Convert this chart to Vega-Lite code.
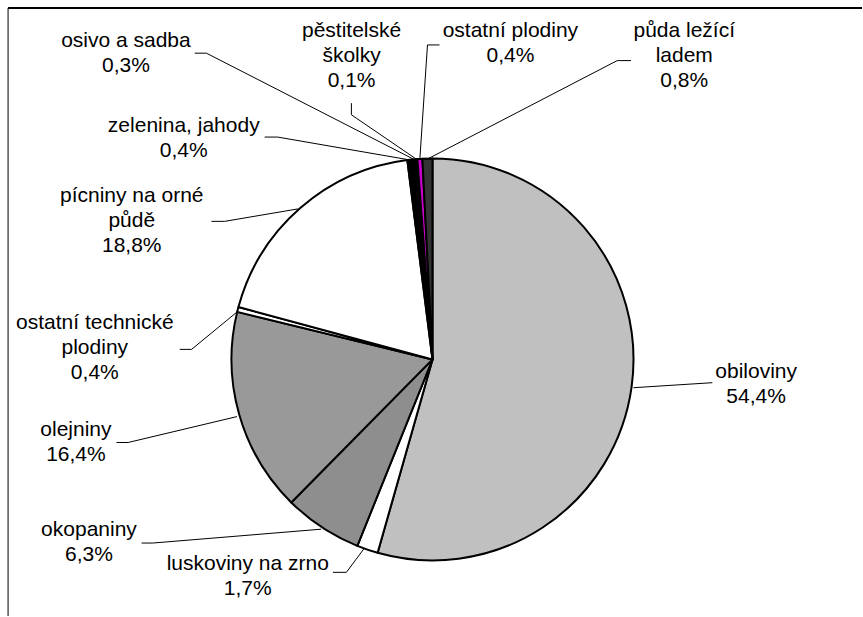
{
  "$schema": "https://vega.github.io/schema/vega-lite/v6.json",
  "width": 863,
  "height": 617,
  "autosize": {"type": "fit", "contains": "padding"},
  "padding": 0,
  "background": "white",
  "config": {"view": {"stroke": null}},
  "datasets": {
    "slices": [
      {"category": "obiloviny", "value": 54.4, "order": 1},
      {"category": "luskoviny na zrno", "value": 1.7, "order": 2},
      {"category": "okopaniny", "value": 6.3, "order": 3},
      {"category": "olejniny", "value": 16.4, "order": 4},
      {"category": "ostatní technické plodiny", "value": 0.4, "order": 5},
      {"category": "pícniny na orné půdě", "value": 18.8, "order": 6},
      {"category": "zelenina, jahody", "value": 0.4, "order": 7},
      {"category": "osivo a sadba", "value": 0.3, "order": 8},
      {"category": "pěstitelské školky", "value": 0.1, "order": 9},
      {"category": "ostatní plodiny", "value": 0.4, "order": 10},
      {"category": "půda ležící ladem", "value": 0.8, "order": 11}
    ],
    "labels": [
      {"category": "obiloviny", "text": "obiloviny\n54,4%", "u": 161.2, "v": -9.5},
      {"category": "luskoviny na zrno", "text": "luskoviny na zrno\n1,7%", "u": -92.0, "v": -105.0},
      {"category": "okopaniny", "text": "okopaniny\n6,3%", "u": -171.1, "v": -88.1},
      {"category": "olejniny", "text": "olejniny\n16,4%", "u": -177.6, "v": -38.3},
      {"category": "ostatní technické plodiny", "text": "ostatní technické\nplodiny\n0,4%", "u": -168.2, "v": 15.4},
      {"category": "pícniny na orné půdě", "text": "pícniny na orné\npůdě\n18,8%", "u": -149.8, "v": 78.6},
      {"category": "zelenina, jahody", "text": "zelenina, jahody\n0,4%", "u": -123.9, "v": 113.4},
      {"category": "osivo a sadba", "text": "osivo a sadba\n0,3%", "u": -152.7, "v": 155.7},
      {"category": "pěstitelské školky", "text": "pěstitelské\nškolky\n0,1%", "u": -40.3, "v": 160.7},
      {"category": "ostatní plodiny", "text": "ostatní plodiny\n0,4%", "u": 38.8, "v": 160.7},
      {"category": "půda ležící ladem", "text": "půda ležící\nladem\n0,8%", "u": 125.4, "v": 160.7}
    ],
    "leaders": [
      {"category": "obiloviny", "seq": 1, "u": 100.1, "v": -14.1},
      {"category": "obiloviny", "seq": 2, "u": 139.4, "v": -11.6},
      {"category": "luskoviny na zrno", "seq": 1, "u": -34.1, "v": -94.3},
      {"category": "luskoviny na zrno", "seq": 2, "u": -42.9, "v": -106.1},
      {"category": "luskoviny na zrno", "seq": 3, "u": -49.6, "v": -106.1},
      {"category": "okopaniny", "seq": 1, "u": -55.4, "v": -84.6},
      {"category": "okopaniny", "seq": 2, "u": -139.3, "v": -91.5},
      {"category": "okopaniny", "seq": 3, "u": -144.9, "v": -91.5},
      {"category": "olejniny", "seq": 1, "u": -97.4, "v": -28.5},
      {"category": "olejniny", "seq": 2, "u": -151.6, "v": -41.4},
      {"category": "olejniny", "seq": 3, "u": -157.4, "v": -41.4},
      {"category": "ostatní technické plodiny", "seq": 1, "u": -96.9, "v": 24.0},
      {"category": "ostatní technické plodiny", "seq": 2, "u": -120.0, "v": 5.0},
      {"category": "ostatní technické plodiny", "seq": 3, "u": -125.9, "v": 5.0},
      {"category": "pícniny na orné půdě", "seq": 1, "u": -67.0, "v": 75.0},
      {"category": "pícniny na orné půdě", "seq": 2, "u": -103.5, "v": 68.8},
      {"category": "pícniny na orné půdě", "seq": 3, "u": -110.1, "v": 68.8},
      {"category": "zelenina, jahody", "seq": 1, "u": -11.3, "v": 99.4},
      {"category": "zelenina, jahody", "seq": 2, "u": -77.1, "v": 110.8},
      {"category": "zelenina, jahody", "seq": 3, "u": -83.6, "v": 110.8},
      {"category": "osivo a sadba", "seq": 1, "u": -9.1, "v": 99.6},
      {"category": "osivo a sadba", "seq": 2, "u": -112.6, "v": 152.6},
      {"category": "osivo a sadba", "seq": 3, "u": -118.4, "v": 152.6},
      {"category": "pěstitelské školky", "seq": 1, "u": -7.9, "v": 99.7},
      {"category": "pěstitelské školky", "seq": 2, "u": -40.4, "v": 121.9},
      {"category": "pěstitelské školky", "seq": 3, "u": -40.4, "v": 127.7},
      {"category": "ostatní plodiny", "seq": 1, "u": -6.3, "v": 99.8},
      {"category": "ostatní plodiny", "seq": 2, "u": -2.5, "v": 156.7},
      {"category": "ostatní plodiny", "seq": 3, "u": 3.5, "v": 156.7},
      {"category": "půda ležící ladem", "seq": 1, "u": -2.4, "v": 99.9},
      {"category": "půda ležící ladem", "seq": 2, "u": 92.0, "v": 148.9},
      {"category": "půda ležící ladem", "seq": 3, "u": 98.9, "v": 148.9}
    ],
    "frame": [
      {"edge": "top", "u": -211.4, "v": 175.1, "u2": 213.93, "v2": 175.1},
      {"edge": "left", "u": -211.4, "v": 175.1, "u2": -211.4, "v2": -127.86}
    ]
  },
  "layer": [
    {
      "data": {"name": "frame"},
      "mark": {"type": "rule", "color": "#000000"},
      "encoding": {
        "x": {"field": "u", "type": "quantitative", "scale": {"domain": [-215.42, 213.93], "nice": false, "zero": false}, "axis": null},
        "y": {"field": "v", "type": "quantitative", "scale": {"domain": [-127.86, 179.1], "nice": false, "zero": false}, "axis": null},
        "x2": {"field": "u2"},
        "y2": {"field": "v2"},
        "strokeWidth": {"field": "edge", "type": "nominal", "legend": null, "scale": {"domain": ["top", "left"], "range": [2, 1]}}
      }
    },
    {
      "data": {"name": "slices"},
      "mark": {"type": "arc", "outerRadius": 201, "stroke": "#000000", "strokeWidth": 2, "strokeJoin": "round"},
      "encoding": {
        "x": {"datum": 0, "type": "quantitative"},
        "y": {"datum": 0, "type": "quantitative"},
        "theta": {"field": "value", "type": "quantitative", "stack": true},
        "order": {"field": "order", "type": "quantitative"},
        "color": {
          "field": "category",
          "type": "nominal",
          "legend": null,
          "scale": {
            "domain": ["obiloviny", "luskoviny na zrno", "okopaniny", "olejniny", "ostatní technické plodiny", "pícniny na orné půdě", "zelenina, jahody", "osivo a sadba", "pěstitelské školky", "ostatní plodiny", "půda ležící ladem"],
            "range": ["#C0C0C0", "#FFFFFF", "#8E8E8E", "#999999", "#FFFFFF", "#FFFFFF", "#000000", "#000000", "#FFFFFF", "#CC00CC", "#333333"]
          }
        }
      }
    },
    {
      "data": {"name": "leaders"},
      "mark": {"type": "line", "color": "#000000", "strokeWidth": 1},
      "encoding": {
        "x": {"field": "u", "type": "quantitative"},
        "y": {"field": "v", "type": "quantitative"},
        "detail": {"field": "category", "type": "nominal"},
        "order": {"field": "seq", "type": "quantitative"}
      }
    },
    {
      "data": {"name": "labels"},
      "mark": {"type": "text", "font": "Liberation Sans", "fontSize": 21, "lineHeight": 25, "lineBreak": "\n", "align": "center", "baseline": "alphabetic", "color": "#000000"},
      "encoding": {
        "x": {"field": "u", "type": "quantitative"},
        "y": {"field": "v", "type": "quantitative"},
        "text": {"field": "text", "type": "nominal"}
      }
    }
  ]
}
